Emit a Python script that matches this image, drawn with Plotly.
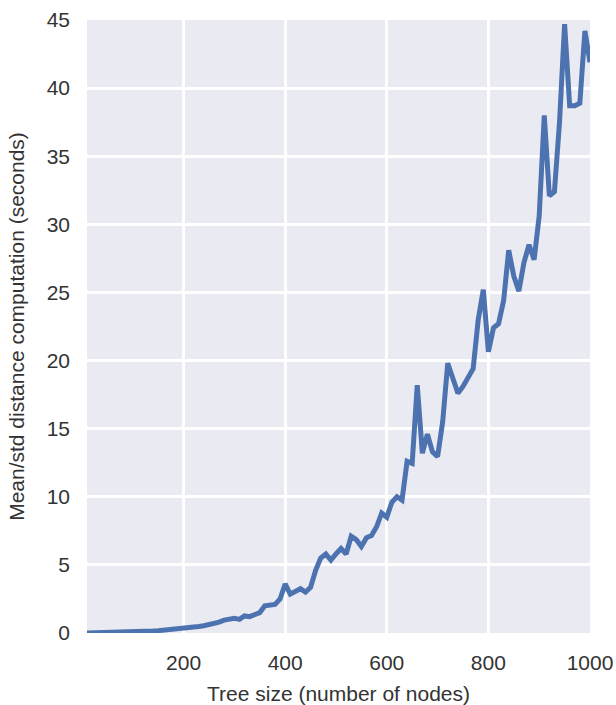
import plotly.graph_objects as go

tree_size = list(range(10, 1001, 10))
mean_time = [
    0.005, 0.01, 0.015, 0.02, 0.03, 0.04, 0.05, 0.06, 0.07, 0.08,
    0.10, 0.11, 0.13, 0.15, 0.17, 0.20, 0.23, 0.26, 0.30, 0.34,
    0.38, 0.43, 0.48, 0.53, 0.60, 0.68, 0.80, 0.95, 1.00, 1.08,
    1.00, 1.25, 1.20, 1.40, 1.50, 2.00, 2.03, 2.10, 2.50, 3.60,
    2.85, 3.10, 3.25, 3.00, 3.35, 4.60, 5.50, 5.80, 5.35, 5.80,
    6.20, 5.80, 7.10, 6.85, 6.35, 7.00, 7.15, 7.80, 8.80, 8.50,
    9.60, 10.00, 9.75, 12.60, 12.45, 18.20, 13.20, 14.60, 13.30, 12.95,
    15.50, 19.80, 18.70, 17.60, 18.10, 18.80, 19.40, 23.00, 25.20, 20.65,
    22.40, 22.70, 24.40, 28.10, 26.20, 25.10, 27.20, 28.50, 27.40, 30.60,
    38.00, 32.10, 32.40, 37.50, 44.70, 38.70, 38.70, 38.90, 44.20, 41.90,
]
x_ticks = [200, 400, 600, 800, 1000]
y_ticks = [0, 5, 10, 15, 20, 25, 30, 35, 40, 45]

fig = go.Figure(go.Scatter(
    x=tree_size, y=mean_time, mode="lines",
    line=dict(color="#4C72B0", width=5),
    hoverinfo="skip",
))

font = dict(family="Liberation Sans, Arial, sans-serif", size=21, color="#333333")

fig.update_layout(
    width=616, height=705,
    margin=dict(l=87, r=26, t=20, b=72),
    paper_bgcolor="white",
    plot_bgcolor="#EAEAF2",
    font=font,
    showlegend=False,
    xaxis=dict(
        range=[10, 1000], tickvals=x_ticks, ticktext=[str(v) for v in x_ticks],
        showgrid=True, gridcolor="white", gridwidth=2.5,
        zeroline=False, showline=False, ticks="",
        ticklabelstandoff=15, automargin=False,
        title=dict(text="Tree size (number of nodes)", standoff=13, font=font),
    ),
    yaxis=dict(
        range=[0, 45], tickvals=y_ticks, ticktext=[str(v) for v in y_ticks],
        showgrid=True, gridcolor="white", gridwidth=2.5,
        zeroline=False, showline=False, ticks="",
        ticklabelstandoff=16, automargin=False,
        title=dict(text="Mean/std distance computation (seconds)", standoff=16, font=font),
    ),
)

fig.write_html(
    "out.html",
    config={"displayModeBar": False},
    post_script="document.body.style.margin='0';document.body.style.overflow='hidden';",
)
